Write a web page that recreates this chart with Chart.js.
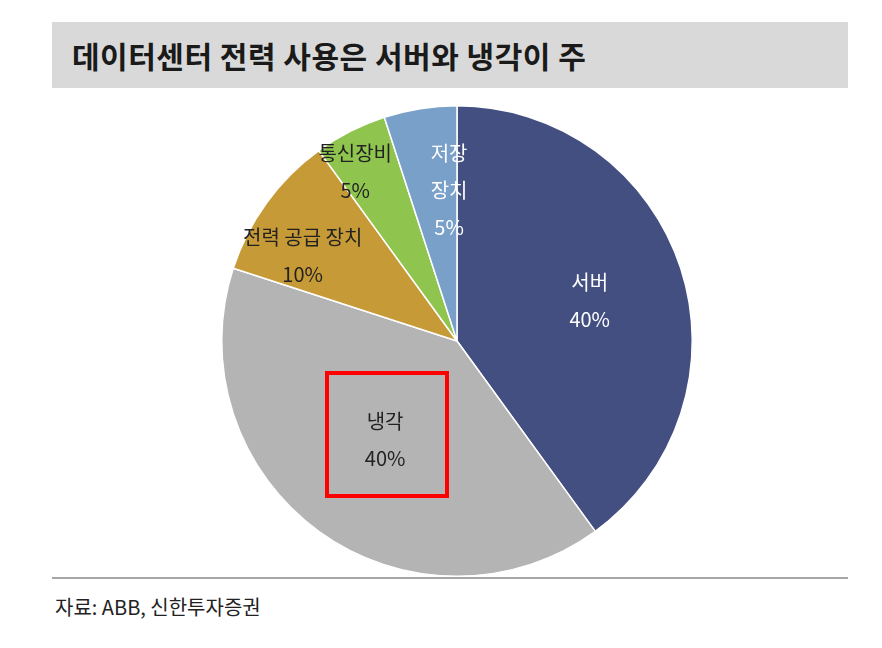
<!DOCTYPE html>
<html><head><meta charset="utf-8">
<script src="https://cdn.jsdelivr.net/npm/chart.js@4"></script>
<style>
body{margin:0;width:882px;height:648px;background:#fff;position:relative;font-family:"Noto Sans CJK KR","Noto Sans",sans-serif;overflow:hidden}
#title{position:absolute;left:52px;top:22px;width:796px;height:66px;background:#d9d9d9;font-weight:bold;font-size:30px;color:#1a1a1a;line-height:66px;padding-left:20px;box-sizing:border-box;letter-spacing:0.5px}
#wrap{position:absolute;left:219px;top:103px;width:476px;height:476px}
#line{position:absolute;left:52px;top:577px;width:796px;height:2px;background:#a6a6a6}
#src{position:absolute;left:55px;top:592px;font-size:20px;color:#222}
#box{position:absolute;left:325px;top:371px;width:116px;height:119px;border:4px solid #ff0000}
</style></head><body>
<div id="title">데이터센터 전력 사용은 서버와 냉각이 주</div>
<div id="wrap"><canvas id="c" width="476" height="476"></canvas></div>
<div id="box"></div>
<div id="line"></div>
<div id="src">자료: ABB, 신한투자증권</div>
<script>
const categories=["서버","냉각","전력 공급 장치","통신장비","저장 장치"];
const values=[40,40,10,5,5];
const labelLines=[["서버","40%"],["냉각","40%"],["전력 공급 장치","10%"],["통신장비","5%"],["저장","장치","5%"]];
const colors=["#424f80","#b4b4b4","#c69a36","#8fc54e","#79a0c9"];
const labelColors=["#fff","#222","#222","#222","#fff"];
const labelPos=[[0.59,-17],[0.52,126],[0.75,209],[0.84,239],[0.64,267]];
const labelPlugin={id:'lbl',afterDatasetsDraw(chart){
 const ctx=chart.ctx;const meta=chart.getDatasetMeta(0);
 ctx.save();ctx.font='20px "Noto Sans CJK KR"';ctx.textAlign='center';ctx.textBaseline='middle';
 meta.data.forEach((a,i)=>{const [f,deg]=labelPos[i];const ang=deg*Math.PI/180;
  const x=a.x+Math.cos(ang)*a.outerRadius*f,y=a.y+Math.sin(ang)*a.outerRadius*f;
  const lines=labelLines[i];const lh=37;ctx.fillStyle=labelColors[i];
  lines.forEach((t,j)=>ctx.fillText(t,x,y+(j-(lines.length-1)/2)*lh));});
 ctx.restore();}};
new Chart(document.getElementById('c'),{type:'pie',
 data:{labels:categories,datasets:[{data:values,backgroundColor:colors,borderColor:'#fff',borderWidth:1.5}]},
 options:{responsive:false,animation:false,layout:{padding:2},plugins:{legend:{display:false},tooltip:{enabled:false}}},
 plugins:[labelPlugin]});
</script></body></html>
